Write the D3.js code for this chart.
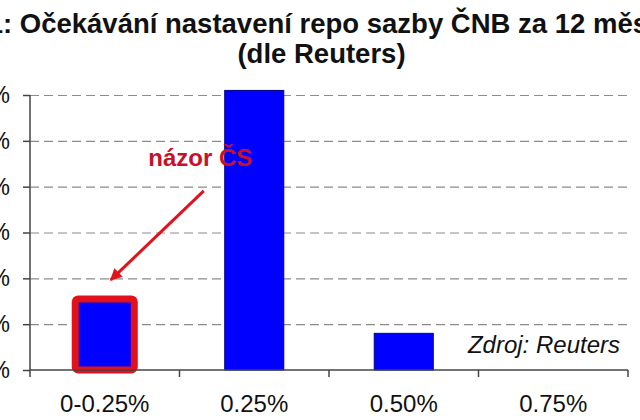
<!DOCTYPE html>
<html><head><meta charset="utf-8">
<script src="https://cdn.jsdelivr.net/npm/d3@7"></script>
<style>body{margin:0;background:#fff}svg{display:block}</style>
</head><body><svg id="c" width="640" height="420"></svg>
<script>
const categories = ["0-0.25%", "0.25%", "0.50%", "0.75%"];
const shares = [15.5, 61.0, 8.0, 0];
const yTicks = [0, 10, 20, 30, 40, 50, 60];
const titlePrefix = "Graf 1";
const titleLine1 = ": Očekávání nastavení repo sazby ČNB za 12 měsíců";
const titleLine2 = "(dle Reuters)";
const highlight = "0-0.25%";
const annotation = "názor ČS";
const source = "Zdroj: Reuters";

(function () {
const FONT = "'Liberation Sans', Arial, sans-serif";
const svg = d3.select("#c");
const pL = 30, pR = 628, pT = 95, pB = 370;
const p = 0.605;
const x = d3.scaleBand().domain(categories).range([pL, pR]).paddingInner(p).paddingOuter(p / 2);
const y = d3.scaleLinear().domain([0, 60]).range([pB, pT]);
const data = categories.map((c, i) => ({ c, v: shares[i] }));
const red = "#e2121c";

// title
svg.append("text").attr("x", 3).attr("y", 33).attr("text-anchor", "end")
  .attr("font-family", FONT).attr("font-weight", "bold").attr("font-size", 27.5).attr("fill", "#111").text(titlePrefix);
svg.append("text").attr("x", 3).attr("y", 33)
  .attr("font-family", FONT).attr("font-weight", "bold").attr("font-size", 27.5).attr("fill", "#111").text(titleLine1);
svg.append("text").attr("x", 321.5).attr("y", 63).attr("text-anchor", "middle")
  .attr("font-family", FONT).attr("font-weight", "bold").attr("font-size", 27.5).attr("fill", "#111").text(titleLine2);

// gridlines
svg.append("g").attr("transform", `translate(${pL},0)`)
  .call(d3.axisLeft(y).tickValues(yTicks.slice(1)).tickSize(-(pR - pL)).tickFormat(""))
  .call(g => g.select(".domain").remove())
  .call(g => g.selectAll("line").attr("stroke", "#8c8c8c").attr("stroke-width", 1.2).attr("stroke-dasharray", "9,5"));

// bars
svg.append("g").selectAll("rect").data(data.filter(d => d.v > 0)).join("rect")
  .attr("x", d => x(d.c)).attr("y", d => y(d.v))
  .attr("width", x.bandwidth()).attr("height", d => y(0) - y(d.v))
  .attr("fill", "#0000ff").attr("stroke", "#00008a").attr("stroke-width", 1);

// highlight frame
const hd = data.find(d => d.c === highlight);
svg.append("rect")
  .attr("x", x(hd.c)).attr("y", y(hd.v))
  .attr("width", x.bandwidth()).attr("height", y(0) - y(hd.v))
  .attr("fill", "none").attr("stroke", red).attr("stroke-width", 7).attr("rx", 3);

// y axis
const ya = svg.append("g").attr("transform", `translate(${pL},0)`)
  .call(d3.axisLeft(y).tickValues(yTicks).tickSize(7).tickSizeOuter(0).tickPadding(13).tickFormat(d => d + "%"));
ya.select(".domain").remove();
ya.selectAll("line").attr("stroke", "#444").attr("stroke-width", 1.5);
ya.selectAll("text").attr("font-family", FONT).attr("font-size", 23).attr("fill", "#111");
svg.append("line").attr("x1", pL).attr("x2", pL).attr("y1", pT).attr("y2", pB + 7)
  .attr("stroke", "#444").attr("stroke-width", 1.5);

// x axis
svg.append("line").attr("x1", pL).attr("x2", pR).attr("y1", pB).attr("y2", pB)
  .attr("stroke", "#444").attr("stroke-width", 1.5);
svg.append("g").selectAll("line").data(d3.range(1, categories.length + 1)).join("line")
  .attr("x1", i => pL + i * x.step()).attr("x2", i => pL + i * x.step())
  .attr("y1", pB).attr("y2", pB + 7)
  .attr("stroke", "#444").attr("stroke-width", 1.5);
svg.append("g").selectAll("text").data(categories).join("text")
  .attr("x", c => x(c) + x.bandwidth() / 2).attr("y", 412).attr("text-anchor", "middle")
  .attr("font-family", FONT).attr("font-size", 24).attr("fill", "#111").text(c => c);

// annotation
const defs = svg.append("defs");
defs.append("marker").attr("id", "ah").attr("viewBox", "0 0 10 10").attr("refX", 9).attr("refY", 5)
  .attr("markerWidth", 16).attr("markerHeight", 12).attr("markerUnits", "userSpaceOnUse").attr("orient", "auto")
  .append("path").attr("d", "M0,0L10,5L0,10z").attr("fill", red);
const bx = x(hd.c) + x.bandwidth() / 2;
svg.append("line")
  .attr("x1", bx + 99).attr("y1", y(hd.v) - 108)
  .attr("x2", bx + 6).attr("y2", y(hd.v) - 19)
  .attr("stroke", red).attr("stroke-width", 3).attr("marker-end", "url(#ah)");
svg.append("text").attr("x", x(hd.c) + 73).attr("y", y(44.5))
  .attr("font-family", FONT).attr("font-weight", "bold").attr("font-size", 24).attr("fill", "#c8102a").text(annotation);

// source
svg.append("text").attr("x", pR - 8).attr("y", 353).attr("text-anchor", "end")
  .attr("font-family", FONT).attr("font-style", "italic").attr("font-size", 24).attr("fill", "#111").text(source);
})();
</script></body></html>
